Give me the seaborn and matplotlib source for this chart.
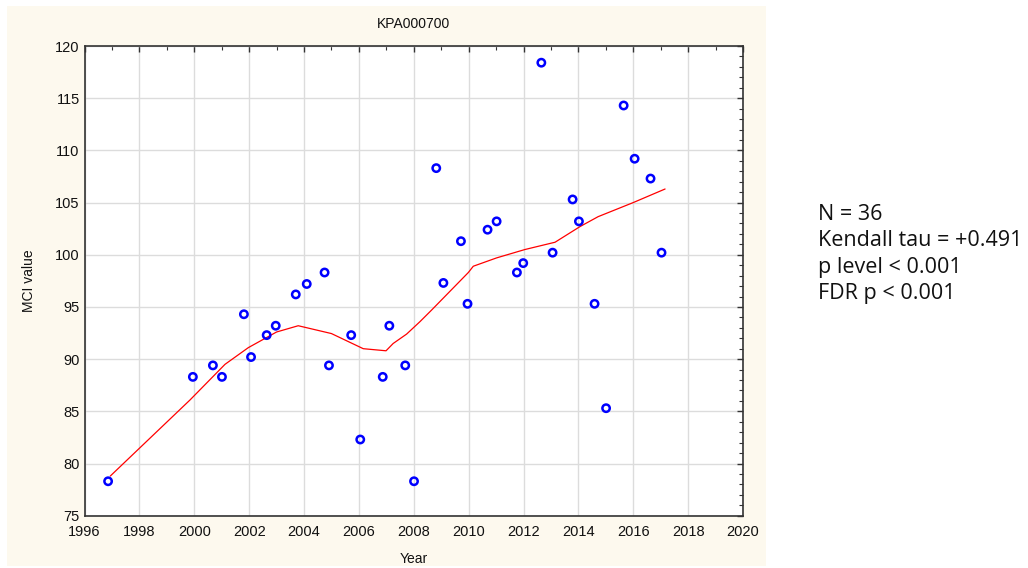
import numpy as np
import pandas as pd
import matplotlib
matplotlib.use("Agg")
import matplotlib.pyplot as plt
from matplotlib.patches import Rectangle
from matplotlib.ticker import MultipleLocator
import seaborn as sns

# -------------------------------
# Data
# -------------------------------

years = [1996.86, 1999.95, 2000.68, 2001.01, 2001.81, 2002.07, 2002.64, 2002.97,
         2003.70, 2004.10, 2004.75, 2004.91, 2005.72, 2006.05, 2006.87, 2007.11,
         2007.69, 2008.01, 2008.82, 2009.08, 2009.72, 2009.96, 2010.69, 2011.02,
         2011.76, 2011.99, 2012.65, 2013.06, 2013.79, 2014.02, 2014.59, 2015.01,
         2015.65, 2016.05, 2016.63, 2017.03]
mci = [78.3, 88.3, 89.4, 88.3, 94.3, 90.2, 92.3, 93.2,
       96.2, 97.2, 98.3, 89.4, 92.3, 82.3, 88.3, 93.2,
       89.4, 78.3, 108.3, 97.3, 101.3, 95.3, 102.4, 103.2,
       98.3, 99.2, 118.4, 100.2, 105.3, 103.2, 95.3, 85.3,
       114.3, 109.2, 107.3, 100.2]

trend_x = [1996.94, 1999.85, 2001.12, 2001.97, 2003.0, 2003.79, 2005.0,
           2006.16, 2006.99, 2007.25, 2007.74, 2008.23, 2008.65, 2009.99,
           2010.17, 2011.02, 2012.05, 2013.15, 2014.06, 2014.72, 2016.0,
           2017.16]
trend_y = [78.8, 86.1, 89.5, 91.1, 92.6, 93.2, 92.45,
           91.0, 90.8, 91.5, 92.4, 93.6, 94.7, 98.3,
           98.9, 99.7, 100.5, 101.2, 102.7, 103.65, 105.0,
           106.3]

stats_lines = ["N = 36", "Kendall tau = +0.491", "p level < 0.001", "FDR p < 0.001"]

df = pd.DataFrame({"Year": years, "MCI": mci})
trend = pd.DataFrame({"Year": trend_x, "MCI": trend_y})

sns.set_style("white")
plt.rcParams["font.family"] = ["Liberation Sans", "DejaVu Sans"]

fig = plt.figure(figsize=(10.28, 5.68), dpi=100)
fig.patch.set_facecolor("white")

# cream panel behind the chart
panel = Rectangle((7 / 1028, 1 - 566 / 568), 759 / 1028, 560 / 568,
                  transform=fig.transFigure, facecolor="#fdf9ee",
                  edgecolor="none", zorder=-10)
fig.add_artist(panel)

ax = fig.add_axes([84.5 / 1028, 1 - 515.7 / 568, 658.5 / 1028, 469.7 / 568])
ax.set_facecolor("white")

sns.lineplot(data=trend, x="Year", y="MCI", color="red", linewidth=0.9,
             ax=ax, zorder=3)
sns.scatterplot(data=df, x="Year", y="MCI", ax=ax, marker="o", s=28,
                facecolor="none", edgecolor="#0000ff", linewidth=1.8,
                zorder=4)

ax.set_xlim(1996, 2020)
ax.set_ylim(75, 120)
ax.xaxis.set_major_locator(MultipleLocator(2))
ax.xaxis.set_minor_locator(MultipleLocator(1))
ax.yaxis.set_major_locator(MultipleLocator(5))
ax.yaxis.set_minor_locator(MultipleLocator(1))
ax.grid(True, which="major", color="#dcdcdc", linewidth=1.0)
ax.set_axisbelow(True)

ax.tick_params(which="both", direction="in", top=True, right=True,
               color="#333333", labelsize=10.5, labelcolor="#111111")
ax.tick_params(which="major", length=4, width=1)
ax.tick_params(which="minor", length=3, width=0.8)
ax.tick_params(axis="x", pad=7)

for sp in ax.spines.values():
    sp.set_color("#333333")
    sp.set_linewidth(1.2)

ax.set_title("KPA000700", fontsize=10, pad=13, color="#111111")
ax.set_xlabel("Year", fontsize=10, labelpad=9, color="#111111")
ax.set_ylabel("MCI value", fontsize=10, labelpad=14, color="#111111")

for i, line in enumerate(stats_lines):
    fig.text(818 / 1028, 1 - (215 + 26 * i) / 568, line, fontsize=15.5,
             family=["Open Sans", "DejaVu Sans"], va="center", ha="left",
             color="#111111")

fig.savefig("out.png", dpi=100)
